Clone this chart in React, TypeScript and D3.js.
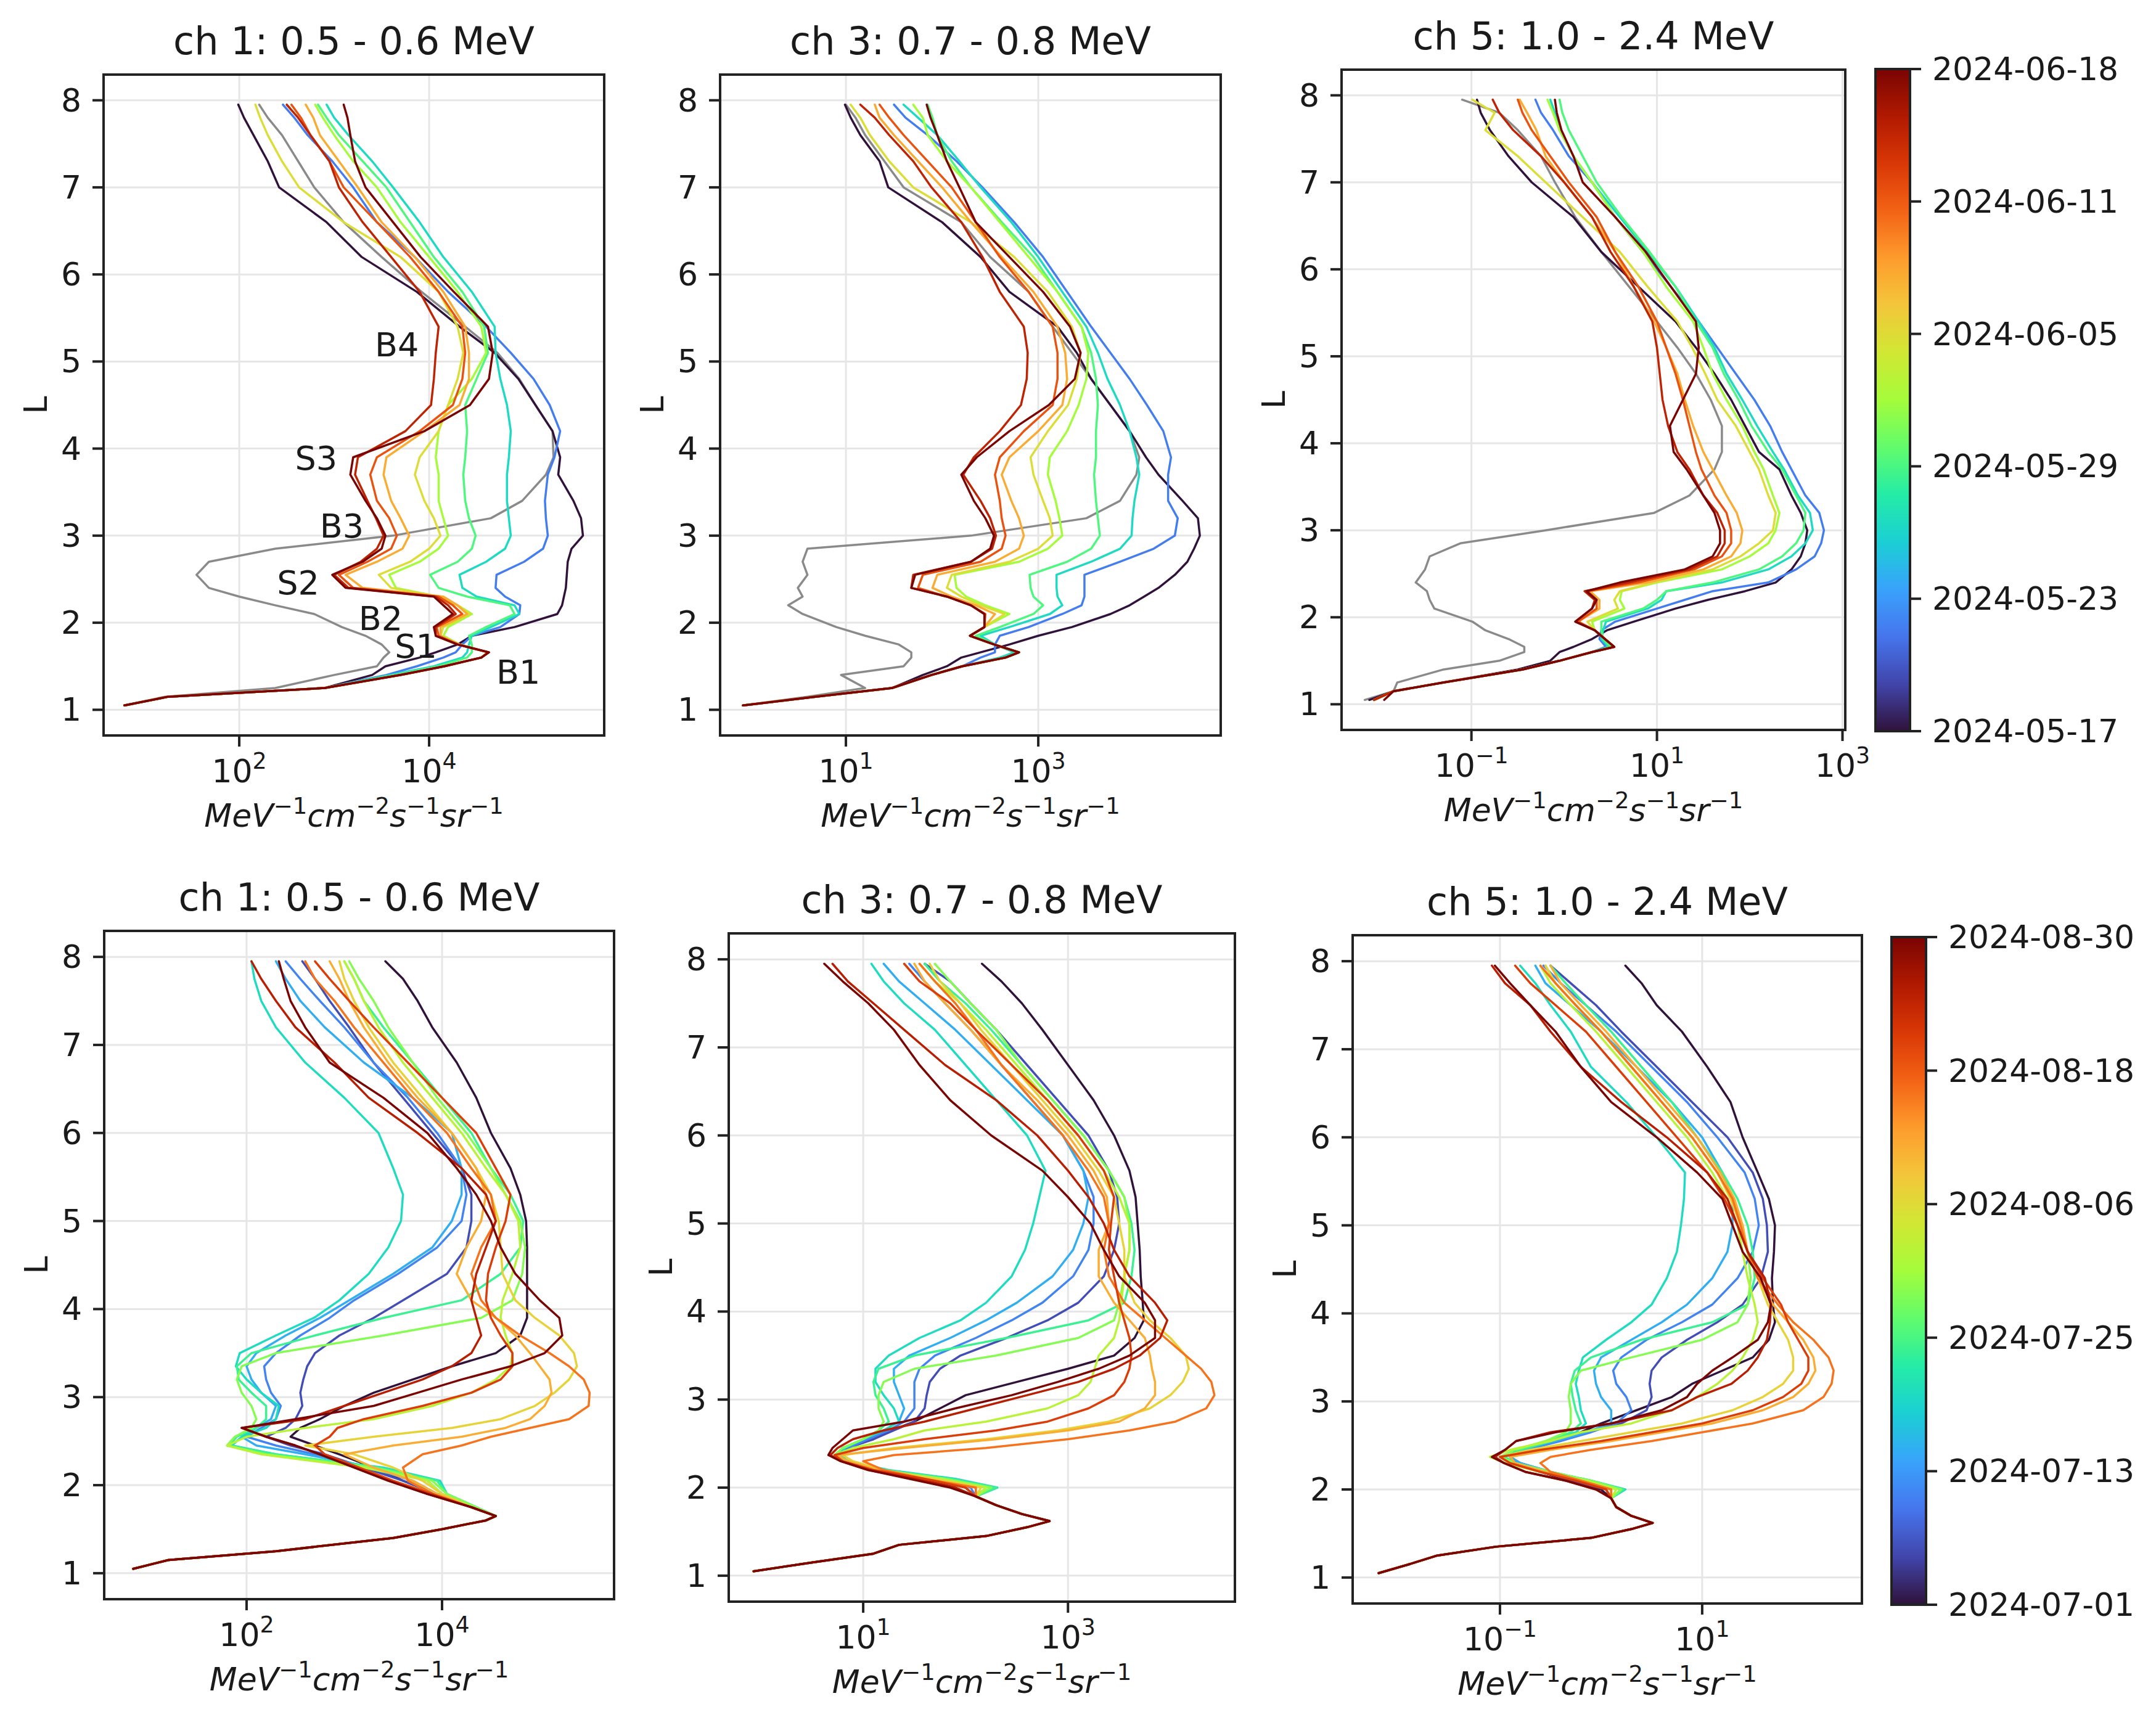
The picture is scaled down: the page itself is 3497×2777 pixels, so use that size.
import React from 'react';
import * as d3 from 'd3';

// ---------------- colormap (turbo) ----------------
const TURBO_STOPS = ['#30123b', '#4145ab', '#4675ed', '#39a2fc', '#1bcfd4', '#24eca6', '#61fc6c', '#a4fc3b', '#d1e834', '#f3c63a', '#fe9b2d', '#f36315', '#d93806', '#b11901', '#7a0402'];
const turbo = d3.piecewise(d3.interpolateRgb, TURBO_STOPS);

// ---------------- data: top row (2024-05-17 .. 2024-06-18) ----------------
const TOP_START = '2024-05-17';
const TOP_END = '2024-06-18';
const TOP_DAYS = [0, 5, 10, 13, 16, 19, 22, 26, 29, 32];
const TOP_L = [1.05, 1.15, 1.25, 1.4, 1.5, 1.6, 1.66, 1.75, 1.85, 1.95, 2.1, 2.2, 2.3, 2.4, 2.55, 2.7, 2.85, 3.0, 3.2, 3.4, 3.7, 3.9, 4.2, 4.5, 4.8, 5.1, 5.4, 5.8, 6.2, 6.6, 7.0, 7.3, 7.6, 7.8, 7.95];

// ch 1 (log10 flux)
const TL_GRAY = [0.79, 1.22, 2.38, 3.0, 3.45, 3.52, 3.58, 3.5, 3.33, 3.08, 2.79, 2.38, 2.0, 1.68, 1.55, 1.68, 2.38, 3.62, 4.65, 4.98, 5.23, 5.31, 5.3, 5.12, 4.95, 4.72, 4.38, 3.92, 3.5, 3.1, 2.79, 2.62, 2.45, 2.3, 2.21];
const TL_CURVES = [
  [0.79, 1.25, 2.9, 3.4, 3.54, 3.9, 4.07, 4.3, 4.45, 4.9, 5.35, 5.4, 5.42, 5.44, 5.45, 5.46, 5.5, 5.62, 5.6, 5.52, 5.36, 5.38, 5.3, 5.12, 4.94, 4.69, 4.32, 3.87, 3.29, 2.92, 2.42, 2.3, 2.15, 2.05, 1.99],
  [0.79, 1.25, 2.9, 3.55, 3.87, 4.15, 4.28, 4.35, 4.45, 4.75, 4.95, 4.96, 4.8, 4.7, 4.71, 5.0, 5.2, 5.25, 5.23, 5.22, 5.25, 5.32, 5.38, 5.27, 5.1, 4.86, 4.6, 4.2, 3.85, 3.45, 3.2, 2.98, 2.72, 2.58, 2.46],
  [0.79, 1.25, 2.9, 3.6, 4.05, 4.35, 4.4, 4.42, 4.45, 4.65, 4.95, 4.9, 4.5, 4.35, 4.32, 4.6, 4.8, 4.86, 4.84, 4.82, 4.82, 4.84, 4.86, 4.82, 4.75, 4.7, 4.69, 4.45, 4.15, 3.9, 3.62, 3.4, 3.15, 3.0, 2.92],
  [0.79, 1.25, 2.9, 3.65, 4.1, 4.4, 4.45, 4.45, 4.42, 4.6, 4.9, 4.85, 4.4, 4.1, 4.01, 4.3, 4.45, 4.49, 4.42, 4.38, 4.36, 4.38, 4.4, 4.38, 4.5, 4.62, 4.58, 4.35, 4.05, 3.8, 3.55, 3.3, 3.05, 2.92, 2.83],
  [0.79, 1.25, 2.9, 3.7, 4.16, 4.55, 4.62, 4.32, 4.15, 4.2, 4.45, 4.3, 4.1, 3.65, 3.58, 3.9, 4.1, 4.2, 4.15, 4.1, 4.1, 4.07, 4.1, 4.2, 4.45, 4.6, 4.55, 4.3, 4.0, 3.7, 3.45, 3.2, 3.0, 2.88, 2.8],
  [0.79, 1.25, 2.9, 3.7, 4.16, 4.55, 4.62, 4.32, 4.12, 4.15, 4.43, 4.3, 4.1, 3.6, 3.47, 3.8, 4.0, 4.12, 4.05, 3.95, 3.85, 3.9, 4.1, 4.2, 4.3, 4.36, 4.3, 4.1, 3.7, 3.1, 2.63, 2.45, 2.3, 2.22, 2.17],
  [0.79, 1.25, 2.9, 3.7, 4.16, 4.55, 4.62, 4.32, 4.12, 4.12, 4.4, 4.3, 4.15, 3.3, 3.12, 3.45, 3.72, 3.79, 3.7, 3.6, 3.52, 3.55, 3.95, 4.32, 4.42, 4.42, 4.38, 4.15, 3.85, 3.5, 3.25, 3.05, 2.85, 2.78, 2.7],
  [0.79, 1.25, 2.9, 3.7, 4.16, 4.55, 4.62, 4.3, 4.1, 4.08, 4.35, 4.25, 4.1, 3.2, 3.05, 3.35, 3.6, 3.66, 3.58, 3.45, 3.38, 3.45, 3.9, 4.25, 4.35, 4.38, 4.35, 4.1, 3.8, 3.45, 3.1, 2.95, 2.75, 2.65, 2.55],
  [0.79, 1.25, 2.9, 3.7, 4.16, 4.55, 4.63, 4.3, 4.07, 4.07, 4.28, 4.2, 4.07, 3.15, 3.0, 3.28, 3.45, 3.52, 3.44, 3.35, 3.22, 3.25, 3.75, 4.02, 4.05, 4.07, 4.1, 3.9, 3.6, 3.3, 3.05, 2.95, 2.75, 2.62, 2.5],
  [0.79, 1.25, 2.9, 3.7, 4.16, 4.55, 4.63, 4.3, 4.07, 4.05, 4.25, 4.15, 4.05, 3.12, 2.98, 3.3, 3.5, 3.54, 3.45, 3.33, 3.17, 3.2, 3.95, 4.43, 4.63, 4.67, 4.62, 4.26, 3.91, 3.62, 3.33, 3.22, 3.17, 3.14, 3.1],
];
const TL_ANNOT_TEXT = ['B4', 'S3', 'B3', 'S2', 'B2', 'S1', 'B1'];
const TL_ANNOT_LOGX = [3.66, 2.81, 3.08, 2.62, 3.49, 3.86, 4.94];
const TL_ANNOT_L = [5.19, 3.89, 3.11, 2.46, 2.05, 1.73, 1.43];

// ch 3
const TM_GRAY = [-0.07, 0.6, 1.2, 0.95, 1.6, 1.68, 1.68, 1.55, 1.2, 0.9, 0.55, 0.4, 0.55, 0.5, 0.6, 0.55, 0.6, 2.3, 3.5, 3.85, 4.02, 4.05, 3.95, 3.75, 3.55, 3.35, 3.15, 2.9, 2.5, 2.2, 1.6, 1.4, 1.2, 1.1, 1.0];
const TM_CURVES = [
  [-0.07, 0.68, 1.48, 1.8, 2.05, 2.2, 2.4, 2.7, 3.0, 3.35, 3.75, 3.95, 4.1, 4.25, 4.42, 4.55, 4.62, 4.68, 4.66, 4.5, 4.25, 4.12, 3.95, 3.75, 3.55, 3.4, 3.2, 2.7, 2.4, 2.0, 1.44, 1.35, 1.15, 1.05, 0.99],
  [-0.07, 0.68, 1.48, 1.89, 2.21, 2.4, 2.55, 2.55, 2.6, 2.9, 3.25, 3.45, 3.48, 3.48, 3.48, 3.85, 4.2, 4.42, 4.45, 4.35, 4.35, 4.38, 4.3, 4.13, 3.95, 3.75, 3.55, 3.3, 3.05, 2.75, 2.42, 2.15, 1.85, 1.62, 1.5],
  [-0.07, 0.68, 1.48, 1.89, 2.21, 2.6, 2.75, 2.55, 2.4, 2.7, 3.12, 3.25, 3.2, 3.19, 3.19, 3.55, 3.85, 3.97, 3.98, 4.0, 4.05, 4.02, 3.95, 3.85, 3.72, 3.62, 3.5, 3.25, 3.0, 2.72, 2.4, 2.18, 1.95, 1.75, 1.6],
  [-0.07, 0.68, 1.48, 1.89, 2.21, 2.66, 2.8, 2.54, 2.35, 2.6, 2.95, 3.05, 2.95, 2.92, 2.91, 3.3, 3.55, 3.64, 3.62, 3.6, 3.58, 3.6, 3.6, 3.62, 3.6, 3.55, 3.45, 3.2, 2.95, 2.62, 2.3, 2.1, 1.95, 1.9, 1.85],
  [-0.07, 0.68, 1.48, 1.89, 2.21, 2.66, 2.8, 2.54, 2.29, 2.44, 2.7, 2.45, 2.25, 2.15, 2.13, 2.8, 3.1, 3.25, 3.22, 3.18, 3.1, 3.12, 3.3, 3.42, 3.5, 3.52, 3.45, 3.2, 2.9, 2.6, 2.3, 2.05, 1.85, 1.8, 1.7],
  [-0.07, 0.68, 1.48, 1.89, 2.21, 2.66, 2.8, 2.54, 2.29, 2.44, 2.65, 2.4, 2.2, 2.05, 2.1, 2.7, 3.0, 3.15, 3.12, 3.05, 2.95, 2.92, 3.1, 3.31, 3.4, 3.44, 3.35, 3.1, 2.75, 2.3, 1.7, 1.45, 1.25, 1.15, 1.05],
  [-0.07, 0.68, 1.48, 1.89, 2.21, 2.66, 2.8, 2.54, 2.29, 2.44, 2.55, 2.35, 2.1, 1.9, 1.95, 2.55, 2.8, 2.85, 2.8, 2.72, 2.62, 2.7, 3.0, 3.25, 3.3, 3.28, 3.2, 2.95, 2.62, 2.3, 2.0, 1.75, 1.5, 1.35, 1.3],
  [-0.07, 0.68, 1.48, 1.89, 2.21, 2.66, 2.8, 2.54, 2.29, 2.44, 2.45, 2.3, 2.05, 1.75, 1.8, 2.4, 2.62, 2.66, 2.62, 2.6, 2.55, 2.6, 2.85, 3.15, 3.2, 3.2, 3.15, 2.9, 2.6, 2.35, 2.1, 1.85, 1.6, 1.45, 1.35],
  [-0.07, 0.68, 1.48, 1.89, 2.21, 2.66, 2.8, 2.54, 2.29, 2.44, 2.44, 2.3, 2.05, 1.68, 1.7, 2.3, 2.52, 2.56, 2.5, 2.4, 2.22, 2.33, 2.6, 2.82, 2.88, 2.89, 2.85, 2.6, 2.42, 2.2, 1.89, 1.7, 1.45, 1.3, 1.15],
  [-0.07, 0.68, 1.48, 1.89, 2.21, 2.66, 2.8, 2.54, 2.29, 2.44, 2.44, 2.3, 2.05, 1.68, 1.72, 2.3, 2.5, 2.54, 2.45, 2.33, 2.2, 2.36, 2.7, 3.11, 3.38, 3.44, 3.33, 3.05, 2.7, 2.35, 2.18, 2.05, 1.95, 1.88, 1.84],
];

// ch 5
const TR_GRAY = [-2.15, -1.84, -1.8, -1.3, -0.7, -0.43, -0.43, -0.6, -0.85, -0.99, -1.4, -1.45, -1.48, -1.6, -1.5, -1.45, -1.12, -0.2, 0.97, 1.35, 1.62, 1.7, 1.7, 1.58, 1.42, 1.22, 1.0, 0.7, 0.4, 0.12, -0.1, -0.25, -0.5, -0.7, -1.1];
const TR_CURVES = [
  [-2.1, -1.84, -1.3, -0.5, -0.15, -0.05, 0.1, 0.3, 0.46, 0.75, 1.2, 1.55, 1.95, 2.28, 2.45, 2.55, 2.6, 2.62, 2.55, 2.45, 2.32, 2.1, 1.95, 1.8, 1.62, 1.42, 1.2, 0.8, 0.4, 0.1, -0.35, -0.6, -0.8, -0.9, -0.94],
  [-2.05, -1.84, -1.3, -0.45, -0.05, 0.3, 0.45, 0.38, 0.4, 0.55, 1.0, 1.3, 1.6, 2.2, 2.5, 2.7, 2.77, 2.8, 2.75, 2.6, 2.45, 2.35, 2.22, 2.05, 1.85, 1.65, 1.45, 1.15, 0.85, 0.55, 0.3, 0.05, -0.12, -0.25, -0.31],
  [-2.05, -1.84, -1.3, -0.45, -0.05, 0.3, 0.48, 0.4, 0.42, 0.45, 0.9, 1.05, 1.1, 1.7, 2.2, 2.45, 2.6, 2.68, 2.65, 2.52, 2.37, 2.25, 2.08, 1.92, 1.75, 1.62, 1.45, 1.2, 0.9, 0.6, 0.3, 0.1, -0.05, -0.1, -0.15],
  [-2.05, -1.84, -1.3, -0.45, -0.05, 0.3, 0.5, 0.42, 0.4, 0.4, 0.85, 1.0, 1.1, 1.6, 2.1, 2.35, 2.5, 2.58, 2.6, 2.5, 2.35, 2.2, 2.02, 1.88, 1.72, 1.6, 1.42, 1.2, 0.92, 0.62, 0.35, 0.2, 0.05, -0.02, -0.05],
  [-2.05, -1.84, -1.3, -0.45, -0.05, 0.3, 0.54, 0.44, 0.33, 0.3, 0.65, 0.6, 0.62, 1.0, 1.7, 2.0, 2.2, 2.28, 2.32, 2.25, 2.15, 2.05, 1.92, 1.75, 1.6, 1.5, 1.39, 1.1, 0.85, 0.55, 0.3, 0.1, -0.05, -0.12, -0.18],
  [-2.05, -1.84, -1.3, -0.45, -0.05, 0.3, 0.54, 0.44, 0.33, 0.25, 0.58, 0.54, 0.6, 0.97, 1.6, 1.9, 2.1, 2.25, 2.28, 2.2, 2.1, 2.0, 1.85, 1.65, 1.52, 1.38, 1.22, 0.9, 0.6, 0.2, -0.2, -0.5, -0.85, -0.75, -0.99],
  [-2.05, -1.84, -1.3, -0.45, -0.05, 0.3, 0.54, 0.44, 0.33, 0.15, 0.38, 0.38, 0.28, 0.9, 1.5, 1.8, 1.9, 1.92, 1.86, 1.75, 1.6, 1.5, 1.39, 1.3, 1.22, 1.1, 0.97, 0.75, 0.55, 0.3, 0.0, -0.2, -0.3, -0.4, -0.48],
  [-2.05, -1.84, -1.3, -0.45, -0.05, 0.3, 0.54, 0.44, 0.33, 0.15, 0.35, 0.35, 0.25, 0.8, 1.4, 1.7, 1.8, 1.8, 1.75, 1.62, 1.48, 1.42, 1.35, 1.28, 1.2, 1.1, 1.0, 0.8, 0.55, 0.35, 0.05, -0.15, -0.35, -0.45, -0.5],
  [-2.05, -1.84, -1.3, -0.45, -0.05, 0.3, 0.54, 0.44, 0.33, 0.12, 0.3, 0.33, 0.22, 0.7, 1.35, 1.65, 1.73, 1.73, 1.65, 1.5, 1.35, 1.22, 1.12, 1.06, 1.03, 1.0, 0.95, 0.75, 0.5, 0.3, 0.0, -0.25, -0.55, -0.7, -0.77],
  [-1.94, -1.84, -1.3, -0.45, -0.05, 0.3, 0.54, 0.44, 0.33, 0.12, 0.3, 0.35, 0.24, 0.6, 1.3, 1.6, 1.68, 1.68, 1.62, 1.5, 1.32, 1.18, 1.14, 1.28, 1.42, 1.45, 1.42, 1.15, 0.88, 0.55, 0.2, 0.1, -0.03, -0.08, -0.1],
];

// ---------------- data: bottom row (2024-07-01 .. 2024-08-30) ----------------
const BOT_START = '2024-07-01';
const BOT_END = '2024-08-30';
const BOT_DAYS = [0, 5, 10, 14, 19, 23, 28, 32, 37, 41, 46, 51, 55, 60];
const BL_DAYS = [0, 5, 10, 14, 19, 23, 28, 32, 37, 41, 46, 51, 60, 55];

// ch 1
const BL_L = [1.05, 1.15, 1.25, 1.4, 1.5, 1.6, 1.65, 1.75, 1.9, 2.05, 2.2, 2.35, 2.45, 2.55, 2.65, 2.75, 2.9, 3.05, 3.2, 3.35, 3.5, 3.7, 3.9, 4.1, 4.4, 4.7, 5.0, 5.3, 5.6, 6.0, 6.4, 6.8, 7.2, 7.5, 7.75, 7.95];
const BL_LOW = [0.84, 1.2, 2.3, 3.5, 4.0, 4.45, 4.55];
const BL_CURVES = [
  [...BL_LOW, 4.3, 3.95, 3.6, 3.3, 2.95, 2.7, 2.45, 2.55, 2.75, 3.0, 3.3, 3.7, 4.1, 4.55, 4.8, 4.87, 4.87, 4.87, 4.87, 4.86, 4.8, 4.7, 4.5, 4.35, 4.15, 3.9, 3.75, 3.6, 3.42],
  [...BL_LOW, 4.3, 3.95, 3.6, 3.2, 2.8, 2.45, 2.2, 2.4, 2.5, 2.57, 2.55, 2.58, 2.62, 2.7, 2.95, 3.3, 3.6, 4.05, 4.25, 4.3, 4.3, 4.2, 3.9, 3.6, 3.3, 3.05, 2.85, 2.7, 2.57],
  [...BL_LOW, 4.3, 3.95, 3.7, 3.25, 2.7, 2.3, 2.0, 2.15, 2.3, 2.35, 2.25, 2.2, 2.18, 2.3, 2.55, 2.85, 3.1, 3.55, 3.95, 4.2, 4.25, 4.2, 3.95, 3.65, 3.3, 3.0, 2.75, 2.55, 2.4],
  [...BL_LOW, 4.35, 4.0, 3.85, 3.3, 2.6, 2.1, 1.95, 2.1, 2.25, 2.3, 2.15, 2.05, 2.0, 2.1, 2.4, 2.75, 3.05, 3.5, 3.9, 4.1, 4.2, 4.2, 4.1, 3.7, 3.2, 2.8, 2.55, 2.4, 2.3],
  [...BL_LOW, 4.35, 4.05, 3.98, 3.4, 2.3, 1.85, 1.95, 2.2, 2.3, 2.33, 2.15, 2.0, 1.89, 1.93, 2.3, 2.69, 2.95, 3.25, 3.45, 3.58, 3.6, 3.5, 3.35, 3.0, 2.6, 2.3, 2.15, 2.08, 2.05],
  [...BL_LOW, 4.35, 4.05, 3.95, 3.35, 2.3, 1.82, 1.9, 2.1, 2.2, 2.2, 2.05, 1.92, 1.9, 2.05, 2.7, 3.4, 4.2, 4.6, 4.8, 4.83, 4.7, 4.5, 4.3, 4.0, 3.7, 3.4, 3.2, 3.1, 3.0],
  [...BL_LOW, 4.35, 4.05, 3.9, 3.3, 2.2, 1.8, 1.88, 2.05, 2.1, 2.05, 1.95, 1.9, 1.95, 2.3, 3.4, 4.4, 4.72, 4.82, 4.85, 4.8, 4.65, 4.5, 4.25, 3.95, 3.7, 3.45, 3.3, 3.15, 3.05],
  [...BL_LOW, 4.3, 4.0, 3.85, 3.2, 2.15, 1.8, 2.0, 2.6, 3.3, 3.9, 4.3, 4.55, 4.7, 4.72, 4.65, 4.6, 4.62, 4.72, 4.8, 4.78, 4.65, 4.45, 4.2, 3.9, 3.6, 3.35, 3.2, 3.1, 3.0],
  [...BL_LOW, 4.3, 4.0, 3.8, 3.5, 3.1, 2.6, 3.3, 4.1, 4.6, 4.95, 5.15, 5.3, 5.38, 5.35, 5.2, 4.95, 4.75, 4.62, 4.6, 4.58, 4.5, 4.35, 4.1, 3.8, 3.5, 3.25, 3.1, 3.0, 2.95],
  [...BL_LOW, 4.3, 3.95, 3.7, 3.3, 3.0, 3.5, 4.2, 4.65, 4.9, 5.05, 5.12, 5.1, 5.0, 4.9, 4.75, 4.55, 4.3, 4.15, 4.25, 4.4, 4.45, 4.35, 4.1, 3.75, 3.45, 3.2, 3.05, 2.95, 2.85],
  [...BL_LOW, 4.3, 3.9, 3.65, 3.6, 3.8, 4.2, 4.5, 4.9, 5.3, 5.5, 5.51, 5.45, 5.3, 5.1, 4.8, 4.55, 4.4, 4.3, 4.4, 4.55, 4.5, 4.3, 4.05, 3.7, 3.4, 3.1, 2.9, 2.7, 2.6],
  [...BL_LOW, 4.3, 3.9, 3.5, 3.15, 2.8, 2.7, 2.85, 2.93, 3.2, 3.8, 4.3, 4.6, 4.72, 4.72, 4.6, 4.5, 4.45, 4.47, 4.55, 4.65, 4.7, 4.55, 4.35, 4.0, 3.65, 3.3, 3.05, 2.85, 2.7],
  [...BL_LOW, 4.3, 3.85, 3.45, 3.1, 2.75, 2.5, 2.2, 1.95, 2.5, 3.3, 3.75, 4.2, 4.7, 5.05, 5.23, 5.2, 5.0, 4.75, 4.6, 4.5, 4.35, 4.15, 3.85, 3.4, 2.85, 2.6, 2.45, 2.38, 2.33],
  [...BL_LOW, 4.3, 3.85, 3.45, 3.1, 2.75, 2.5, 2.2, 1.95, 2.6, 3.0, 3.4, 3.8, 4.1, 4.3, 4.4, 4.35, 4.3, 4.35, 4.45, 4.55, 4.45, 4.2, 3.75, 3.25, 2.9, 2.5, 2.3, 2.15, 2.05],
];

// ch 3 and ch 5 share an L grid
const B2_L = [1.05, 1.15, 1.25, 1.35, 1.45, 1.55, 1.62, 1.7, 1.8, 1.9, 2.0, 2.1, 2.2, 2.3, 2.37, 2.45, 2.55, 2.65, 2.75, 2.9, 3.05, 3.2, 3.35, 3.5, 3.7, 3.9, 4.1, 4.4, 4.7, 5.0, 5.3, 5.6, 6.0, 6.4, 6.8, 7.2, 7.5, 7.75, 7.95];
const BM_LOW = [-0.07, 0.5, 1.1, 1.35, 2.2, 2.6, 2.82, 2.55, 2.3, 2.1];
const BM_CURVES = [
  [...BM_LOW, 1.9, 1.55, 1.15, 0.85, 0.75, 0.8, 1.1, 1.28, 1.5, 1.75, 2.0, 2.5, 3.0, 3.45, 3.65, 3.74, 3.73, 3.71, 3.7, 3.68, 3.66, 3.6, 3.45, 3.25, 3.0, 2.75, 2.55, 2.35, 2.16],
  [...BM_LOW, 2.0, 1.65, 1.2, 0.85, 0.75, 0.85, 1.1, 1.3, 1.5, 1.6, 1.62, 1.65, 1.75, 1.95, 2.4, 2.8, 3.1, 3.35, 3.45, 3.5, 3.48, 3.4, 3.2, 2.9, 2.6, 2.3, 2.05, 1.85, 1.6],
  [...BM_LOW, 2.05, 1.7, 1.2, 0.85, 0.75, 0.85, 1.05, 1.25, 1.4, 1.5, 1.5, 1.5, 1.55, 1.7, 2.1, 2.45, 2.75, 3.05, 3.2, 3.25, 3.25, 3.15, 2.95, 2.65, 2.35, 2.05, 1.8, 1.6, 1.45],
  [...BM_LOW, 2.2, 1.8, 1.2, 0.85, 0.75, 0.8, 1.0, 1.2, 1.35, 1.4, 1.35, 1.3, 1.3, 1.45, 1.85, 2.2, 2.5, 2.85, 3.05, 3.15, 3.2, 3.15, 2.95, 2.6, 2.25, 1.9, 1.6, 1.35, 1.2],
  [...BM_LOW, 2.31, 1.9, 1.25, 0.85, 0.78, 0.82, 1.0, 1.2, 1.35, 1.3, 1.2, 1.12, 1.12, 1.25, 1.55, 1.95, 2.2, 2.45, 2.58, 2.66, 2.72, 2.78, 2.6, 2.3, 2.0, 1.7, 1.4, 1.2, 1.08],
  [...BM_LOW, 2.3, 1.85, 1.2, 0.82, 0.72, 0.8, 1.0, 1.15, 1.25, 1.2, 1.12, 1.1, 1.15, 1.5, 2.4, 3.2, 3.55, 3.62, 3.65, 3.62, 3.55, 3.4, 3.15, 2.85, 2.55, 2.25, 2.0, 1.75, 1.6],
  [...BM_LOW, 2.25, 1.8, 1.15, 0.8, 0.72, 0.8, 1.0, 1.15, 1.2, 1.15, 1.15, 1.2, 1.5, 2.3, 3.1, 3.45, 3.5, 3.55, 3.6, 3.6, 3.55, 3.4, 3.15, 2.85, 2.55, 2.3, 2.05, 1.85, 1.7],
  [...BM_LOW, 2.2, 1.75, 1.1, 0.8, 0.72, 0.9, 1.3, 1.6, 2.2, 2.8, 3.1, 3.22, 3.26, 3.3, 3.45, 3.5, 3.52, 3.55, 3.6, 3.6, 3.5, 3.35, 3.1, 2.8, 2.5, 2.2, 1.95, 1.7, 1.55],
  [...BM_LOW, 2.15, 1.7, 1.2, 0.9, 0.8, 1.3, 2.2, 2.9, 3.4, 3.8, 4.0, 4.12, 4.18, 4.15, 4.0, 3.8, 3.65, 3.55, 3.55, 3.5, 3.45, 3.3, 3.05, 2.75, 2.45, 2.15, 1.95, 1.75, 1.65],
  [...BM_LOW, 2.1, 1.6, 1.15, 0.85, 0.75, 1.4, 2.3, 3.0, 3.5, 3.75, 3.85, 3.85, 3.82, 3.8, 3.75, 3.6, 3.45, 3.3, 3.3, 3.4, 3.38, 3.25, 3.0, 2.7, 2.35, 2.05, 1.8, 1.6, 1.5],
  [...BM_LOW, 2.1, 1.6, 1.2, 1.0, 1.3, 2.2, 3.0, 3.6, 4.05, 4.35, 4.43, 4.4, 4.3, 4.15, 3.95, 3.75, 3.55, 3.4, 3.35, 3.4, 3.35, 3.2, 2.95, 2.65, 2.35, 2.1, 1.9, 1.7, 1.55],
  [...BM_LOW, 2.0, 1.6, 1.1, 0.8, 0.72, 1.0, 1.6, 2.3, 2.8, 3.2, 3.45, 3.55, 3.6, 3.62, 3.6, 3.55, 3.5, 3.45, 3.4, 3.42, 3.45, 3.35, 3.1, 2.8, 2.45, 2.1, 1.85, 1.55, 1.4],
  [...BM_LOW, 1.9, 1.5, 1.05, 0.78, 0.68, 0.75, 0.9, 1.2, 1.6, 2.1, 2.6, 3.1, 3.45, 3.7, 3.9, 3.97, 3.85, 3.6, 3.45, 3.35, 3.2, 3.0, 2.7, 2.3, 1.8, 1.4, 1.1, 0.85, 0.7],
  [...BM_LOW, 1.85, 1.45, 1.05, 0.78, 0.66, 0.7, 0.8, 0.9, 1.4, 1.9, 2.45, 2.9, 3.3, 3.6, 3.85, 3.85, 3.75, 3.5, 3.35, 3.22, 3.0, 2.75, 2.25, 1.85, 1.55, 1.3, 1.05, 0.8, 0.62],
];

const BR_LOW = [-2.2, -1.9, -1.62, -1.04, -0.1, 0.3, 0.51, 0.3, 0.15, 0.1];
const BR_CURVES = [
  [...BR_LOW, 0.0, -0.3, -0.6, -0.85, -0.9, -0.84, -0.5, -0.2, 0.0, 0.35, 0.7, 0.9, 1.2, 1.5, 1.66, 1.72, 1.7, 1.69, 1.71, 1.72, 1.66, 1.55, 1.4, 1.28, 1.05, 0.8, 0.55, 0.4, 0.24],
  [...BR_LOW, 0.05, -0.3, -0.55, -0.8, -0.9, -0.8, -0.45, -0.15, 0.2, 0.45, 0.5, 0.48, 0.5, 0.6, 0.85, 1.15, 1.4, 1.58, 1.65, 1.64, 1.6, 1.5, 1.25, 0.9, 0.55, 0.2, -0.05, -0.3, -0.5],
  [...BR_LOW, 0.1, -0.2, -0.5, -0.8, -0.9, -0.75, -0.4, -0.1, 0.15, 0.3, 0.25, 0.15, 0.12, 0.2, 0.45, 0.8, 1.1, 1.35, 1.5, 1.56, 1.52, 1.42, 1.15, 0.85, 0.5, 0.15, -0.15, -0.4, -0.57],
  [...BR_LOW, 0.2, -0.1, -0.5, -0.8, -0.9, -0.78, -0.45, -0.15, 0.1, 0.1, 0.0, -0.05, -0.07, 0.0, 0.3, 0.6, 0.85, 1.1, 1.25, 1.3, 1.3, 1.2, 1.0, 0.7, 0.35, 0.0, -0.3, -0.55, -0.65],
  [...BR_LOW, 0.24, -0.1, -0.55, -0.85, -0.95, -0.8, -0.5, -0.25, -0.15, -0.2, -0.22, -0.25, -0.22, -0.18, 0.05, 0.3, 0.5, 0.65, 0.75, 0.79, 0.82, 0.83, 0.55, 0.25, -0.1, -0.3, -0.5, -0.65, -0.8],
  [...BR_LOW, 0.22, -0.1, -0.5, -0.85, -0.95, -0.8, -0.5, -0.3, -0.2, -0.25, -0.28, -0.3, -0.26, -0.1, 0.4, 1.1, 1.45, 1.52, 1.5, 1.45, 1.35, 1.2, 0.95, 0.7, 0.4, 0.1, -0.15, -0.35, -0.5],
  [...BR_LOW, 0.2, -0.1, -0.5, -0.85, -1.0, -0.85, -0.55, -0.35, -0.3, -0.3, -0.32, -0.3, -0.2, 0.3, 1.0, 1.35, 1.45, 1.48, 1.45, 1.4, 1.3, 1.15, 0.9, 0.6, 0.3, 0.0, -0.25, -0.45, -0.55],
  [...BR_LOW, 0.15, -0.15, -0.6, -0.95, -1.1, -0.9, -0.5, -0.2, 0.3, 0.7, 0.95, 1.15, 1.3, 1.4, 1.5, 1.55, 1.52, 1.45, 1.4, 1.35, 1.25, 1.1, 0.85, 0.55, 0.25, -0.05, -0.3, -0.5, -0.6],
  [...BR_LOW, 0.1, -0.2, -0.6, -0.9, -1.0, -0.7, -0.2, 0.3, 0.8, 1.3, 1.6, 1.8, 1.9, 1.9, 1.85, 1.75, 1.65, 1.55, 1.45, 1.38, 1.28, 1.15, 0.9, 0.6, 0.3, 0.0, -0.25, -0.45, -0.55],
  [...BR_LOW, 0.1, -0.2, -0.55, -0.85, -0.9, -0.5, 0.1, 0.6, 1.1, 1.6, 1.9, 2.05, 2.12, 2.1, 2.0, 1.85, 1.7, 1.55, 1.45, 1.4, 1.32, 1.18, 0.95, 0.65, 0.35, 0.05, -0.2, -0.4, -0.5],
  [...BR_LOW, 0.1, -0.2, -0.5, -0.6, -0.5, -0.1, 0.5, 1.0, 1.5, 2.0, 2.2, 2.28, 2.3, 2.25, 2.1, 1.9, 1.75, 1.55, 1.45, 1.38, 1.3, 1.15, 0.9, 0.6, 0.3, 0.0, -0.25, -0.45, -0.6],
  [...BR_LOW, 0.05, -0.25, -0.6, -0.9, -1.0, -0.6, 0.0, 0.5, 1.0, 1.5, 1.8, 1.98, 2.05, 2.05, 1.95, 1.85, 1.78, 1.6, 1.45, 1.35, 1.22, 1.05, 0.75, 0.45, 0.15, -0.15, -0.45, -0.7, -0.85],
  [...BR_LOW, -0.05, -0.35, -0.75, -0.96, -1.05, -0.95, -0.84, -0.5, 0.1, 0.7, 0.95, 1.29, 1.45, 1.55, 1.64, 1.67, 1.68, 1.62, 1.45, 1.35, 1.25, 1.05, 0.65, 0.2, -0.2, -0.5, -0.7, -0.95, -1.08],
  [...BR_LOW, -0.05, -0.35, -0.75, -0.96, -1.08, -0.95, -0.84, -0.45, 0.1, 0.6, 0.85, 0.95, 1.1, 1.3, 1.55, 1.65, 1.68, 1.58, 1.4, 1.3, 1.2, 0.95, 0.55, 0.1, -0.2, -0.45, -0.7, -0.9, -1.05],
];

// axis tick exponents
const TICKS_CH1 = [2, 4];
const TICKS_CH3 = [1, 3];
const TICKS_CH5_TOP = [-1, 1, 3];
const TICKS_CH5_BOT = [-1, 1];
const L_TICKS = [1, 2, 3, 4, 5, 6, 7, 8];
const L_DOMAIN = [0.705, 8.295];

// ---------------- layout ----------------
const FONT = '"DejaVu Sans", "Liberation Sans", sans-serif';
const TXT = '#1a1a1a';
const TICK_FS = 52;
const TITLE_FS = 62;

type Box = { x0: number; x1: number; y0: number; y1: number };

function Pow({ x, y, exp, size }: { x: number; y: number; exp: number; size: number }) {
  const e = exp < 0 ? '\u2212' + Math.abs(exp) : String(exp);
  return (
    <text x={x} y={y} fontSize={size} textAnchor="middle" fill={TXT} fontFamily={FONT}>
      10<tspan dy={-size * 0.42} fontSize={size * 0.7}>{e}</tspan>
    </text>
  );
}

function UnitLabel({ x, y }: { x: number; y: number }) {
  const fs = 52;
  const ss = 37;
  const up = -21;
  const parts: [string, string][] = [['MeV', '\u22121'], ['cm', '\u22122'], ['s', '\u22121'], ['sr', '\u22121']];
  const spans: any[] = [];
  parts.forEach(([b, s], i) => {
    spans.push(<tspan key={'b' + i} dy={i === 0 ? 0 : -up} fontStyle="italic" fontSize={fs}>{b}</tspan>);
    spans.push(<tspan key={'s' + i} dy={up} fontSize={ss}>{s}</tspan>);
  });
  return (
    <text x={x} y={y} textAnchor="middle" fill={TXT} fontFamily={FONT}>{spans}</text>
  );
}

type PanelProps = {
  id: string;
  box: Box;
  xlo: number;
  xhi: number;
  ticks: number[];
  L: number[];
  curves: number[][];
  days: number[];
  totalDays: number;
  gray?: number[];
  title: string;
  annotText?: string[];
  annotX?: number[];
  annotL?: number[];
};

function Panel(p: PanelProps) {
  const { box } = p;
  const x = d3.scaleLog().domain([Math.pow(10, p.xlo), Math.pow(10, p.xhi)]).range([box.x0, box.x1]);
  const y = d3.scaleLinear().domain(L_DOMAIN).range([box.y1, box.y0]);
  const line = d3
    .line<number>()
    .x((v) => x(Math.pow(10, v)))
    .y((_, i) => y(p.L[i]))
    .curve(d3.curveLinear);
  const order = d3.range(p.curves.length).sort((a, b) => p.days[a] - p.days[b]);
  const cx = (box.x0 + box.x1) / 2;
  const cy = (box.y0 + box.y1) / 2;
  return (
    <g>
      <defs>
        <clipPath id={'clip-' + p.id}>
          <rect x={box.x0} y={box.y0} width={box.x1 - box.x0} height={box.y1 - box.y0} />
        </clipPath>
      </defs>
      {p.ticks.map((e) => (
        <line key={'gx' + e} x1={x(Math.pow(10, e))} x2={x(Math.pow(10, e))} y1={box.y0} y2={box.y1} stroke="#e6e6e6" strokeWidth={3} />
      ))}
      {L_TICKS.map((t) => (
        <line key={'gy' + t} x1={box.x0} x2={box.x1} y1={y(t)} y2={y(t)} stroke="#e6e6e6" strokeWidth={3} />
      ))}
      <g clipPath={`url(#clip-${p.id})`} fill="none" strokeLinejoin="round" strokeLinecap="round">
        {p.gray && <path d={line(p.gray) || ''} stroke="#8a8a8a" strokeWidth={3.5} />}
        {order.map((i) => (
          <path key={i} d={line(p.curves[i]) || ''} stroke={turbo(p.days[i] / p.totalDays)} strokeWidth={3.5} />
        ))}
      </g>
      {p.annotText &&
        p.annotText.map((t, i) => (
          <text key={'a' + i} x={x(Math.pow(10, p.annotX![i]))} y={y(p.annotL![i])} fontSize={54} textAnchor="middle" dominantBaseline="central" fill={TXT} fontFamily={FONT}>
            {t}
          </text>
        ))}
      <rect x={box.x0} y={box.y0} width={box.x1 - box.x0} height={box.y1 - box.y0} fill="none" stroke="#222" strokeWidth={4} />
      {L_TICKS.map((t) => (
        <g key={'yt' + t}>
          <line x1={box.x0 - 18} x2={box.x0} y1={y(t)} y2={y(t)} stroke="#222" strokeWidth={4} />
          <text x={box.x0 - 36} y={y(t)} fontSize={TICK_FS} textAnchor="end" dominantBaseline="central" fill={TXT} fontFamily={FONT}>
            {t}
          </text>
        </g>
      ))}
      {p.ticks.map((e) => (
        <g key={'xt' + e}>
          <line x1={x(Math.pow(10, e))} x2={x(Math.pow(10, e))} y1={box.y1} y2={box.y1 + 18} stroke="#222" strokeWidth={4} />
          <Pow x={x(Math.pow(10, e))} y={box.y1 + 76} exp={e} size={TICK_FS} />
        </g>
      ))}
      <text x={cx} y={box.y0 - 33} fontSize={TITLE_FS} textAnchor="middle" fill={TXT} fontFamily={FONT}>
        {p.title}
      </text>
      <text x={box.x0 - 110} y={cy} fontSize={TICK_FS} textAnchor="middle" dominantBaseline="central" fill={TXT} fontFamily={FONT} transform={`rotate(-90 ${box.x0 - 110} ${cy})`}>
        L
      </text>
      <UnitLabel x={cx} y={box.y1 + 148} />
    </g>
  );
}

function Colorbar({ id, box, start, end }: { id: string; box: Box; start: string; end: string }) {
  const t0 = new Date(start);
  const t1 = new Date(end);
  const y = d3.scaleTime().domain([t0, t1]).range([box.y1, box.y0]);
  const ticks = d3.range(6).map((k) => new Date(+t0 + (k * (+t1 - +t0)) / 5));
  const fmt = d3.utcFormat('%Y-%m-%d');
  const stops = d3.range(0, 101).map((k) => k / 100);
  return (
    <g>
      <defs>
        <linearGradient id={'grad-' + id} x1="0" y1="1" x2="0" y2="0">
          {stops.map((s) => (
            <stop key={s} offset={s} stopColor={turbo(s)} />
          ))}
        </linearGradient>
      </defs>
      <rect x={box.x0} y={box.y0} width={box.x1 - box.x0} height={box.y1 - box.y0} fill={`url(#grad-${id})`} stroke="#222" strokeWidth={4} />
      {ticks.map((t, i) => (
        <g key={i}>
          <line x1={box.x1} x2={box.x1 + 18} y1={y(t)} y2={y(t)} stroke="#222" strokeWidth={4} />
          <text x={box.x1 + 36} y={y(t)} fontSize={TICK_FS} dominantBaseline="central" fill={TXT} fontFamily={FONT}>
            {fmt(t)}
          </text>
        </g>
      ))}
    </g>
  );
}

export default function App() {
  return (
    <svg width={3497} height={2777} viewBox="0 0 3497 2777" style={{ position: 'absolute', left: 0, top: 0, background: '#fff' }}>
      <rect x={0} y={0} width={3497} height={2777} fill="#fff" />
      <Panel id="tl" box={{ x0: 168, x1: 980, y0: 121, y1: 1193 }} xlo={0.571} xhi={5.844} ticks={TICKS_CH1} L={TOP_L} curves={TL_CURVES} days={TOP_DAYS} totalDays={32} gray={TL_GRAY} title="ch 1: 0.5 - 0.6 MeV" annotText={TL_ANNOT_TEXT} annotX={TL_ANNOT_LOGX} annotL={TL_ANNOT_L} />
      <Panel id="tm" box={{ x0: 1168, x1: 1980, y0: 121, y1: 1193 }} xlo={-0.308} xhi={4.897} ticks={TICKS_CH3} L={TOP_L} curves={TM_CURVES} days={TOP_DAYS} totalDays={32} gray={TM_GRAY} title="ch 3: 0.7 - 0.8 MeV" />
      <Panel id="tr" box={{ x0: 2176, x1: 2993, y0: 113, y1: 1184 }} xlo={-2.4} xhi={3.03} ticks={TICKS_CH5_TOP} L={TOP_L} curves={TR_CURVES} days={TOP_DAYS} totalDays={32} gray={TR_GRAY} title="ch 5: 1.0 - 2.4 MeV" />
      <Colorbar id="top" box={{ x0: 3042, x1: 3098, y0: 112, y1: 1186 }} start={TOP_START} end={TOP_END} />

      <Panel id="bl" box={{ x0: 169, x1: 996, y0: 1510, y1: 2594 }} xlo={0.543} xhi={5.76} ticks={TICKS_CH1} L={BL_L} curves={BL_CURVES} days={BL_DAYS} totalDays={60} title="ch 1: 0.5 - 0.6 MeV" />
      <Panel id="bm" box={{ x0: 1182, x1: 2003, y0: 1514, y1: 2598 }} xlo={-0.313} xhi={4.63} ticks={TICKS_CH3} L={B2_L} curves={BM_CURVES} days={BOT_DAYS} totalDays={60} title="ch 3: 0.7 - 0.8 MeV" />
      <Panel id="br" box={{ x0: 2194, x1: 3020, y0: 1517, y1: 2601 }} xlo={-2.457} xhi={2.58} ticks={TICKS_CH5_BOT} L={B2_L} curves={BR_CURVES} days={BOT_DAYS} totalDays={60} title="ch 5: 1.0 - 2.4 MeV" />
      <Colorbar id="bot" box={{ x0: 3068, x1: 3124, y0: 1520, y1: 2603 }} start={BOT_START} end={BOT_END} />
    </svg>
  );
}
